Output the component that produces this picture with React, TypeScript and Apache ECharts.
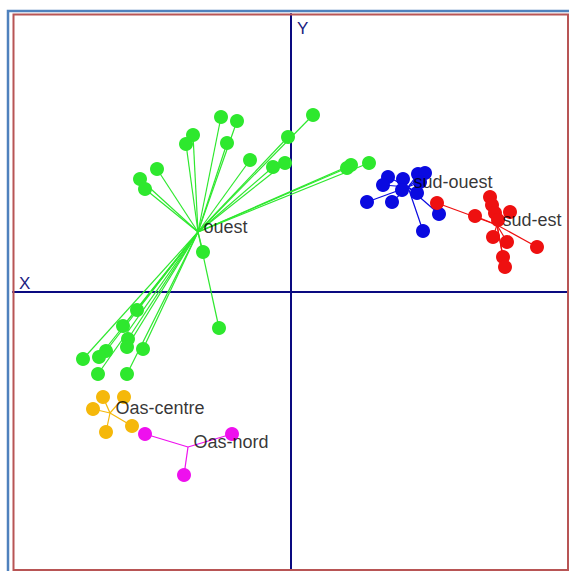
import React, { useEffect, useRef } from "react";
import * as echarts from "echarts";

const groupNames = ["ouest", "sud-ouest", "sud-est", "Oas-centre", "Oas-nord"];
const groupColors = ["#2ee82e", "#0a0ae0", "#ee1010", "#f5b80a", "#ee10ee"];

const ouestPoints = [
  [-0.70, 1.75], [-0.54, 1.71], [-0.98, 1.57], [-1.05, 1.48], [-0.64, 1.49],
  [0.22, 1.77], [-0.03, 1.55], [-1.34, 1.23], [-1.51, 1.13], [-1.46, 1.03],
  [-0.41, 1.32], [-0.18, 1.25], [-0.06, 1.29], [0.56, 1.24], [0.60, 1.27],
  [0.78, 1.29], [-0.88, 0.40], [-1.54, -0.18], [-1.68, -0.34], [-1.63, -0.47],
  [-1.64, -0.55], [-1.85, -0.59], [-1.92, -0.65], [-2.08, -0.67], [-1.48, -0.57],
  [-1.93, -0.82], [-1.64, -0.82], [-0.72, -0.36],
];
const sudOuestPoints = [
  [0.97, 1.15], [1.12, 1.13], [1.27, 1.18], [1.34, 1.19], [0.92, 1.07],
  [1.11, 1.02], [1.29, 1.10], [1.26, 0.99], [0.76, 0.90], [1.01, 0.90],
  [1.48, 0.78], [1.32, 0.61],
];
const sudEstPoints = [
  [1.46, 0.89], [1.84, 0.76], [1.99, 0.95], [2.01, 0.87], [2.04, 0.79],
  [2.19, 0.80], [2.07, 0.72], [2.02, 0.55], [2.16, 0.50], [2.46, 0.45],
  [2.12, 0.35], [2.14, 0.25],
];
const oasCentrePoints = [
  [-1.88, -1.05], [-1.67, -1.05], [-1.98, -1.17], [-1.59, -1.34], [-1.85, -1.40],
];
const oasNordPoints = [
  [-1.46, -1.42], [-0.59, -1.42], [-1.07, -1.83],
];
const centroids = [
  [-0.93, 0.60], [1.17, 1.05], [2.06, 0.67], [-1.81, -1.21], [-1.03, -1.55],
];
const groupPoints = [ouestPoints, sudOuestPoints, sudEstPoints, oasCentrePoints, oasNordPoints];

const axisNames = ["X", "Y"];

export default function App() {
  const ref = useRef<HTMLDivElement>(null);
  useEffect(() => {
    if (!ref.current) return;
    const chart = echarts.init(ref.current, null, { renderer: "svg" });
    const series: any[] = [];
    groupPoints.forEach((pts, gi) => {
      series.push({
        type: "lines",
        coordinateSystem: "cartesian2d",
        z: 2,
        silent: true,
        lineStyle: { color: groupColors[gi], width: 1.2, opacity: 1 },
        data: pts.map((p) => ({ coords: [centroids[gi], p] })),
      });
    });
    groupPoints.forEach((pts, gi) => {
      series.push({
        type: "scatter",
        z: 3,
        symbol: "circle",
        symbolSize: 14,
        itemStyle: { color: groupColors[gi], opacity: 1 },
        data: pts,
      });
    });
    series.push({
      type: "scatter",
      z: 4,
      symbolSize: 1,
      itemStyle: { color: "rgba(0,0,0,0)" },
      label: {
        show: true,
        position: "right",
        distance: 5,
        offset: [0, -5],
        color: "#000",
        fontSize: 18,
        fontFamily: "Liberation Sans, Arial, sans-serif",
        formatter: (p: any) => groupNames[p.dataIndex],
      },
      data: centroids,
    });
    chart.setOption({
      animation: false,
      backgroundColor: "#fff",
      grid: { left: 13, top: 14, width: 555, height: 556 },
      xAxis: {
        type: "value",
        min: -2.78,
        max: 2.77,
        axisLine: { show: true, onZero: true, lineStyle: { color: "#0a0a80", width: 2 } },
        axisTick: { show: false },
        axisLabel: { show: false },
        splitLine: { show: false },
      },
      yAxis: {
        type: "value",
        min: -2.78,
        max: 2.78,
        axisLine: { show: true, onZero: true, lineStyle: { color: "#0a0a80", width: 2 } },
        axisTick: { show: false },
        axisLabel: { show: false },
        splitLine: { show: false },
      },
      graphic: [
        {
          type: "rect",
          z: 100,
          silent: true,
          shape: { x: 8, y: 11, width: 600, height: 600 },
          style: { fill: "none", stroke: "#4f81bd", lineWidth: 2.5 },
        },
        {
          type: "rect",
          z: 100,
          silent: true,
          shape: { x: 13.5, y: 14.5, width: 554.5, height: 555.5 },
          style: { fill: "none", stroke: "#b85555", lineWidth: 2 },
        },
        {
          type: "text",
          z: 100,
          x: 19,
          y: 292,
          style: {
            text: axisNames[0],
            fill: "#20207f",
            fontSize: 17,
            fontFamily: "Liberation Sans, Arial, sans-serif",
            textVerticalAlign: "bottom",
          },
        },
        {
          type: "text",
          z: 100,
          x: 297,
          y: 20,
          style: {
            text: axisNames[1],
            fill: "#20207f",
            fontSize: 17,
            fontFamily: "Liberation Sans, Arial, sans-serif",
            textVerticalAlign: "top",
          },
        },
      ],
      series,
    });
    return () => chart.dispose();
  }, []);
  return (
    <div
      ref={ref}
      style={{ position: "fixed", left: 0, top: 0, width: 569, height: 571, background: "#fff" }}
    />
  );
}
